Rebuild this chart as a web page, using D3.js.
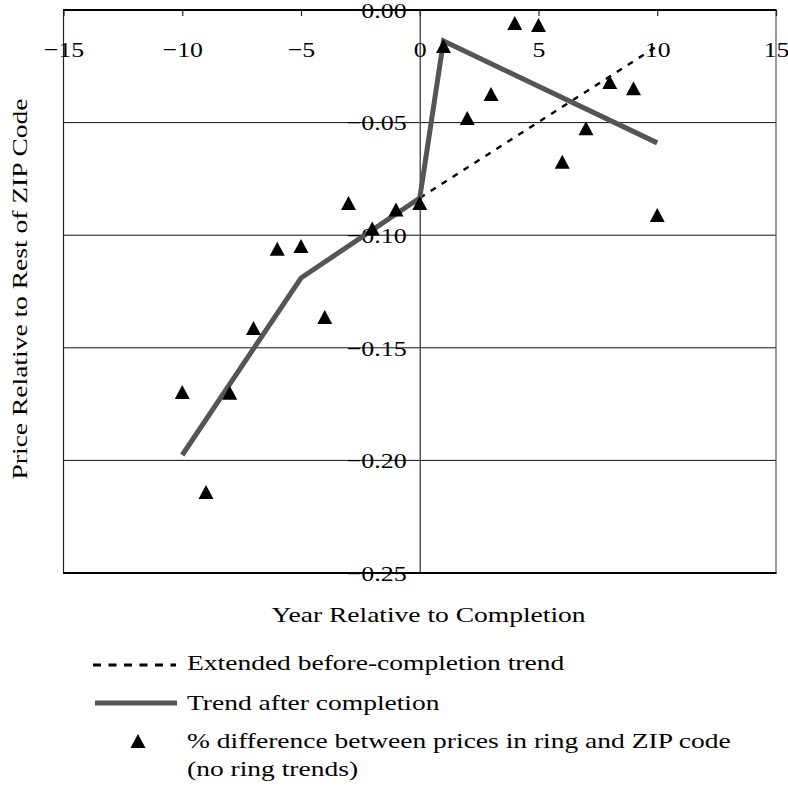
<!DOCTYPE html>
<html><head><meta charset="utf-8">
<script src="https://cdn.jsdelivr.net/npm/d3@7"></script>
<style>
body{margin:0;background:#fff}
text{font-family:"Liberation Serif","Times New Roman",serif;fill:#000}
</style>
</head><body>
<svg id="chart" width="788" height="789"></svg>
<script>
// ---- data ----
const years = [-10,-9,-8,-7,-6,-5,-4,-3,-2,-1,0,1,2,3,4,5,6,7,8,9,10];
const priceDiff = [-0.1696,-0.214,-0.170,-0.1412,-0.106,-0.1048,-0.1363,-0.0857,-0.097,-0.0886,-0.0857,-0.016,-0.048,-0.0373,-0.0058,-0.0067,-0.0674,-0.0525,-0.032,-0.0347,-0.091];
const trendYears = [-10,-5,0,1,10];
const trendValues = [-0.1976,-0.119,-0.0835,-0.0138,-0.059];
const extYears = [0,10];
const extValues = [-0.0835,-0.016];
const xTicks = [-15,-10,-5,0,5,10,15];
const yTicks = [0,-0.05,-0.10,-0.15,-0.20,-0.25];
const gridTicks = [-0.05,-0.10,-0.15,-0.20];
const xTitle = "Year Relative to Completion";
const yTitle = "Price Relative to Rest of ZIP Code";
const legendLabels = ["Extended before-completion trend","Trend after completion","% difference between prices in ring and ZIP code","(no ring trends)"];

// ---- layout ----
const L = 63.5, R = 776, T = 10, B = 573;
const svg = d3.select("#chart");
const x = d3.scaleLinear().domain([-15,15]).range([L,R]);
const y = d3.scaleLinear().domain([-0.25,0]).range([B,T]);
const FS = 22;
const FF = "Liberation Serif";

// widen text glyphs to mimic the wide schoolbook face of the original
function widen(sel, f){
  sel.each(function(){
    const w = this.getComputedTextLength();
    this.setAttribute("textLength", (w*f).toFixed(1));
    this.setAttribute("lengthAdjust","spacingAndGlyphs");
  });
}

// gridlines
svg.append("g").selectAll("line").data(gridTicks).join("line")
  .attr("x1",L).attr("x2",R).attr("y1",d=>y(d)).attr("y2",d=>y(d))
  .attr("stroke","#111").attr("stroke-width",1);

// left/right border
svg.append("line").attr("x1",L).attr("x2",L).attr("y1",T).attr("y2",B).attr("stroke","#222").attr("stroke-width",1.2);
svg.append("line").attr("x1",R).attr("x2",R).attr("y1",T).attr("y2",B).attr("stroke","#555").attr("stroke-width",1.2);

// y axis at x = 0
const yAxis = svg.append("g").attr("transform",`translate(${x(0)},0)`)
  .call(d3.axisLeft(y).tickValues(yTicks).tickFormat(d3.format(".2f")).tickSize(0).tickPadding(13));
yAxis.select(".domain").attr("stroke","#555").attr("stroke-width",1.5);
yAxis.selectAll("text").attr("font-size",FS).attr("font-family",FF).attr("dy","0.33em").attr("fill","#000");
widen(yAxis.selectAll("text"), 1.18);

// x axis at top, ticks pointing down, labels below
const xAxis = svg.append("g").attr("transform",`translate(0,${T})`)
  .call(d3.axisBottom(x).tickValues(xTicks).tickFormat(d3.format("d")).tickSize(6));
xAxis.select(".domain").remove();
xAxis.selectAll(".tick line").attr("stroke","#222").attr("stroke-width",1.2);
xAxis.selectAll("text").attr("font-size",FS).attr("font-family",FF).attr("y",47).attr("dy",0).attr("fill","#000");
widen(xAxis.selectAll("text"), 1.17);

// top and bottom heavy lines
svg.append("line").attr("x1",L-0.5).attr("x2",R+0.5).attr("y1",T).attr("y2",T).attr("stroke","#000").attr("stroke-width",2.2);
svg.append("line").attr("x1",L-0.5).attr("x2",R+0.5).attr("y1",B).attr("y2",B).attr("stroke","#000").attr("stroke-width",2.2);

// extended dashed trend
const line = d3.line().x(d=>x(d[0])).y(d=>y(d[1]));
svg.append("path").datum(d3.zip(extYears,extValues)).attr("d",line)
  .attr("fill","none").attr("stroke","#000").attr("stroke-width",2.4).attr("stroke-dasharray","6,7");

// trend after completion
svg.append("path").datum(d3.zip(trendYears,trendValues)).attr("d",line)
  .attr("fill","none").attr("stroke","#555").attr("stroke-width",5).attr("stroke-linejoin","miter");

// triangles
const triW = 15, triH = 14;
const tri = `M0,${-triH/2}L${triW/2},${triH/2}L${-triW/2},${triH/2}Z`;
svg.append("g").selectAll("path").data(d3.zip(years,priceDiff)).join("path")
  .attr("d",tri).attr("transform",d=>`translate(${x(d[0])},${y(d[1])})`).attr("fill","#000");

// axis titles
const xt = svg.append("text").attr("x",428.5).attr("y",622).attr("text-anchor","middle").attr("font-size",FS).text(xTitle);
const yt = svg.append("text").attr("transform","translate(27,289) rotate(-90)").attr("text-anchor","middle").attr("font-size",FS).text(yTitle);
widen(xt, 1.25);
widen(yt, 1.25);

// legend
const lg = svg.append("g");
lg.append("line").attr("x1",93).attr("x2",176).attr("y1",665).attr("y2",665).attr("stroke","#000").attr("stroke-width",3).attr("stroke-dasharray","8,7.5");
lg.append("line").attr("x1",95).attr("x2",177).attr("y1",703).attr("y2",703).attr("stroke","#555").attr("stroke-width",5);
lg.append("path").attr("d",tri).attr("transform","translate(138,741)").attr("fill","#000");
const lgY = [670,710,748,776];
const lt = lg.selectAll("text").data(legendLabels).join("text")
  .attr("x",187).attr("y",(d,i)=>lgY[i]).attr("font-size",FS).text(d=>d);
widen(lt, 1.25);
</script>
</body></html>
